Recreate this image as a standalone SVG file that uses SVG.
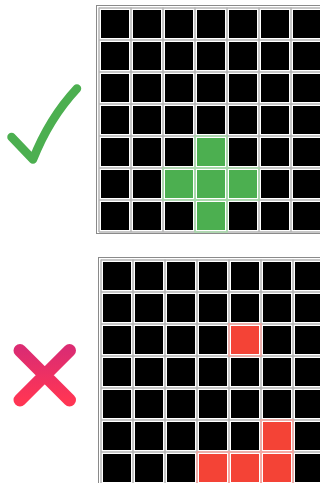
<svg xmlns="http://www.w3.org/2000/svg" width="320" height="483" viewBox="0 0 320 483">
<style>
.bg{fill:#ffffff}
.frame{fill:none;stroke:#8a8a8a;stroke-width:1}
.gl{stroke:#b4b4b4;stroke-width:1.5}
.c{fill:#000000}
.g{fill:#4caf50}
.gb{fill:none;stroke:#a8dcaa;stroke-width:1.5}
.r{fill:#f44336}
.rb{fill:none;stroke:#f9a8a2;stroke-width:1.5}
</style>
<defs>
<linearGradient id="xg" x1="0" y1="0" x2="0" y2="1">
<stop offset="0" stop-color="#dc2c72"/>
<stop offset="1" stop-color="#ff3554"/>
</linearGradient>
<g id="grid">
<rect class="frame" x="96.5" y="5.5" width="240" height="228"/>
<g class="gl">
<line x1="99" y1="7.5" x2="99" y2="232"/><line x1="131" y1="7.5" x2="131" y2="232"/><line x1="163" y1="7.5" x2="163" y2="232"/><line x1="195" y1="7.5" x2="195" y2="232"/><line x1="227" y1="7.5" x2="227" y2="232"/><line x1="259" y1="7.5" x2="259" y2="232"/><line x1="291" y1="7.5" x2="291" y2="232"/>
<line x1="99" y1="8" x2="320" y2="8"/><line x1="99" y1="40" x2="320" y2="40"/><line x1="99" y1="72" x2="320" y2="72"/><line x1="99" y1="104" x2="320" y2="104"/><line x1="99" y1="136" x2="320" y2="136"/><line x1="99" y1="168" x2="320" y2="168"/><line x1="99" y1="200" x2="320" y2="200"/><line x1="99" y1="232" x2="320" y2="232"/>
</g>
<g class="c">
<rect x="101" y="10" width="28" height="28"/><rect x="133" y="10" width="28" height="28"/><rect x="165" y="10" width="28" height="28"/><rect x="197" y="10" width="28" height="28"/><rect x="229" y="10" width="28" height="28"/><rect x="261" y="10" width="28" height="28"/><rect x="293" y="10" width="28" height="28"/>
<rect x="101" y="42" width="28" height="28"/><rect x="133" y="42" width="28" height="28"/><rect x="165" y="42" width="28" height="28"/><rect x="197" y="42" width="28" height="28"/><rect x="229" y="42" width="28" height="28"/><rect x="261" y="42" width="28" height="28"/><rect x="293" y="42" width="28" height="28"/>
<rect x="101" y="74" width="28" height="28"/><rect x="133" y="74" width="28" height="28"/><rect x="165" y="74" width="28" height="28"/><rect x="197" y="74" width="28" height="28"/><rect x="229" y="74" width="28" height="28"/><rect x="261" y="74" width="28" height="28"/><rect x="293" y="74" width="28" height="28"/>
<rect x="101" y="106" width="28" height="28"/><rect x="133" y="106" width="28" height="28"/><rect x="165" y="106" width="28" height="28"/><rect x="197" y="106" width="28" height="28"/><rect x="229" y="106" width="28" height="28"/><rect x="261" y="106" width="28" height="28"/><rect x="293" y="106" width="28" height="28"/>
<rect x="101" y="138" width="28" height="28"/><rect x="133" y="138" width="28" height="28"/><rect x="165" y="138" width="28" height="28"/><rect x="197" y="138" width="28" height="28"/><rect x="229" y="138" width="28" height="28"/><rect x="261" y="138" width="28" height="28"/><rect x="293" y="138" width="28" height="28"/>
<rect x="101" y="170" width="28" height="28"/><rect x="133" y="170" width="28" height="28"/><rect x="165" y="170" width="28" height="28"/><rect x="197" y="170" width="28" height="28"/><rect x="229" y="170" width="28" height="28"/><rect x="261" y="170" width="28" height="28"/><rect x="293" y="170" width="28" height="28"/>
<rect x="101" y="202" width="28" height="28"/><rect x="133" y="202" width="28" height="28"/><rect x="165" y="202" width="28" height="28"/><rect x="197" y="202" width="28" height="28"/><rect x="229" y="202" width="28" height="28"/><rect x="261" y="202" width="28" height="28"/><rect x="293" y="202" width="28" height="28"/>
</g>
</g>
</defs>
<rect class="bg" x="0" y="0" width="320" height="483"/>

<g id="correct">
<use href="#grid"/>
<g id="green-cells">
<rect class="gb" x="195" y="136" width="32" height="32"/>
<rect class="gb" x="163" y="168" width="32" height="32"/>
<rect class="gb" x="195" y="168" width="32" height="32"/>
<rect class="gb" x="227" y="168" width="32" height="32"/>
<rect class="gb" x="195" y="200" width="32" height="32"/>
<rect class="g" x="197" y="138" width="28" height="28"/>
<rect class="g" x="165" y="170" width="28" height="28"/>
<rect class="g" x="197" y="170" width="28" height="28"/>
<rect class="g" x="229" y="170" width="28" height="28"/>
<rect class="g" x="197" y="202" width="28" height="28"/>
</g>
<path id="check" d="M11.5,137 L33,159.5 C43,134 57,110 77,88.5" fill="none" stroke="#4caf50" stroke-width="8.5" stroke-linecap="round" stroke-linejoin="round"/>
</g>

<g id="wrong">
<use href="#grid" x="2" y="252"/>
<g id="red-cells">
<rect class="rb" x="229" y="324" width="32" height="32"/>
<rect class="rb" x="261" y="420" width="32" height="32"/>
<rect class="rb" x="197" y="452" width="32" height="32"/>
<rect class="rb" x="229" y="452" width="32" height="32"/>
<rect class="rb" x="261" y="452" width="32" height="32"/>
<rect class="r" x="231" y="326" width="28" height="28"/>
<rect class="r" x="263" y="422" width="28" height="28"/>
<rect class="r" x="199" y="454" width="28" height="28"/>
<rect class="r" x="231" y="454" width="28" height="28"/>
<rect class="r" x="263" y="454" width="28" height="28"/>
</g>
<path id="cross" d="M20,350.5 L69.5,400 M69.5,350.5 L20,400" fill="none" stroke="url(#xg)" stroke-width="13" stroke-linecap="round"/>
</g>
</svg>
